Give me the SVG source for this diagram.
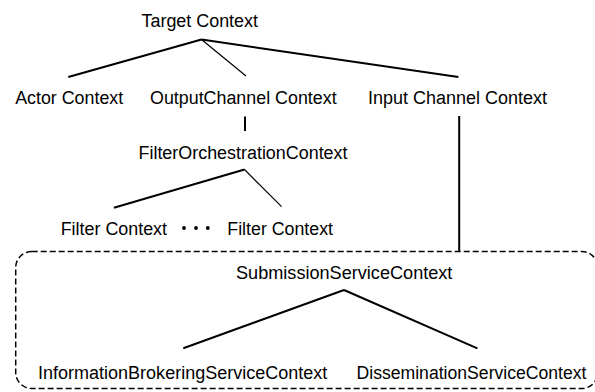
<svg xmlns="http://www.w3.org/2000/svg" width="595" height="392" viewBox="0 0 595 392">
<style>
text{font-family:"Liberation Sans",Arial,sans-serif;font-size:18.8px;fill:#000}
.thick{stroke:#000;stroke-width:2;fill:none;stroke-linecap:butt}
.thin{stroke:#000;stroke-width:1.2;fill:none}
.box{stroke:#000;stroke-width:1.5;fill:none;stroke-dasharray:6 3}
.dot{fill:#000}
</style>
<rect width="595" height="392" fill="#fff"/>
<g id="connectors">
<line class="thick" x1="201.5" y1="39.5" x2="68.3" y2="77"/>
<line class="thin" x1="201.5" y1="39.5" x2="246" y2="76"/>
<line class="thick" x1="201.5" y1="39.5" x2="458.4" y2="77"/>
<line class="thick" x1="245" y1="116.5" x2="245" y2="131"/>
<line class="thick" x1="459.2" y1="116" x2="459.2" y2="251.5"/>
<line class="thick" x1="244.5" y1="169.5" x2="113.9" y2="207.7"/>
<line class="thin" x1="244.5" y1="169.5" x2="281.6" y2="206.7"/>
<line class="thick" x1="344" y1="290" x2="183.3" y2="348.3"/>
<line class="thick" x1="344" y1="290" x2="477.4" y2="348.3"/>
</g>
<g id="service-group">
<rect class="box" x="15.7" y="251.5" width="582" height="137" rx="16" ry="16"/>
</g>
<g id="target"><text x="141.5" y="27" textLength="116.5" lengthAdjust="spacingAndGlyphs">Target Context</text></g>
<g id="actor"><text x="15.2" y="104" textLength="108" lengthAdjust="spacingAndGlyphs">Actor Context</text></g>
<g id="output"><text x="150" y="104" textLength="186.6" lengthAdjust="spacingAndGlyphs">OutputChannel Context</text></g>
<g id="input"><text x="368" y="104" textLength="179" lengthAdjust="spacingAndGlyphs">Input Channel Context</text></g>
<g id="filter-orch"><text x="138.5" y="159" textLength="209" lengthAdjust="spacingAndGlyphs">FilterOrchestrationContext</text></g>
<g id="filter1"><text x="60.7" y="235" textLength="106.3" lengthAdjust="spacingAndGlyphs">Filter Context</text></g>
<g id="ellipsis">
<circle class="dot" cx="184" cy="228" r="1.9"/>
<circle class="dot" cx="196" cy="228" r="1.9"/>
<circle class="dot" cx="207.8" cy="228" r="1.9"/>
</g>
<g id="filter2"><text x="227.3" y="235" textLength="105.7" lengthAdjust="spacingAndGlyphs">Filter Context</text></g>
<g id="submission"><text x="236" y="279" textLength="216.4" lengthAdjust="spacingAndGlyphs">SubmissionServiceContext</text></g>
<g id="brokering"><text x="38" y="378.5" textLength="289.3" lengthAdjust="spacingAndGlyphs">InformationBrokeringServiceContext</text></g>
<g id="dissemination"><text x="356.5" y="378.5" textLength="230" lengthAdjust="spacingAndGlyphs">DisseminationServiceContext</text></g>
</svg>
